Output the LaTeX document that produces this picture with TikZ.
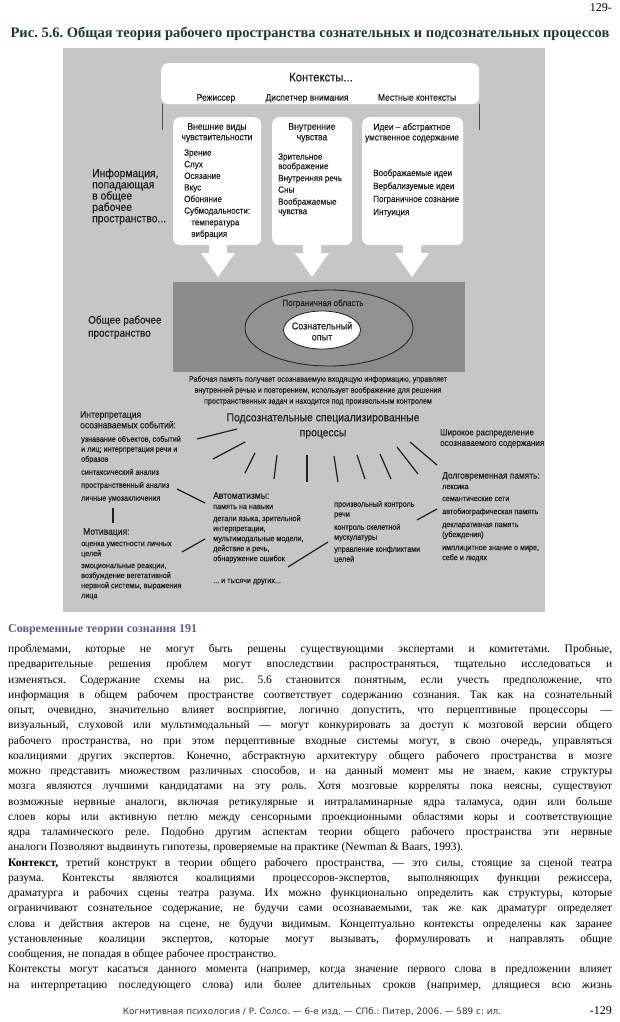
\documentclass[tikz,border=0pt]{standalone}
\usepackage{fontspec}
\setmainfont{Liberation Serif}
\newfontfamily\figf[FakeStretch=0.9,FakeBold=0.3]{Liberation Sans}
\newfontfamily\footf{DejaVu Sans}
\usetikzlibrary{shapes.geometric}
\frenchspacing
\definecolor{figbg}{HTML}{C6C6C6}
\definecolor{bandc}{HTML}{8C8C8C}
\definecolor{ellc}{HTML}{929292}
\definecolor{ftxt}{HTML}{1E1E1E}
\definecolor{ttl}{HTML}{1E3A2A}
\definecolor{sect}{HTML}{5C5C8E}
\newcommand\fsz[2]{\fontsize{#1}{#2}\selectfont\lineskiplimit=-20pt\relax}
\newcommand\bline[3]{\node[bodyl] (l#1) at (8,#2) {\makebox[604pt][s]{#3}};}
\tikzset{
  ft/.style={font=\figf, text=ftxt, inner sep=0pt},
  tl/.style={ft, anchor=north west, align=left},
  tc/.style={ft, anchor=north, align=center},
  wbox/.style={fill=white, rounded corners=7pt, inner sep=0pt, anchor=north west},
  ray/.style={draw=ftxt, line width=1.2pt},
  framel/.style={draw=black!70, line width=0.7pt},
  bodyl/.style={anchor=base west, inner sep=0pt, font=\fsz{11.5}{14}},
}
\begin{document}
\begin{tikzpicture}[x=1pt,y=-1pt]
\useasboundingbox (0,0) rectangle (620,1022);
\fill[white] (0,0) rectangle (620,1022);
\node[anchor=base east, inner sep=0pt, font=\fsz{12}{14}] (pg) at (612,12) {129-};
\node[anchor=base, inner sep=0pt, font=\bfseries\fsz{14.5}{16}, text=ttl] (title) at (310,38) {Рис. 5.6. Общая теория рабочего пространства сознательных и подсознательных процессов};
% figure background
\node[fill=figbg, minimum width=482, minimum height=564, inner sep=0pt, anchor=north west] (fig) at (63,48) {};
% contexts
\node[wbox, minimum width=318, minimum height=41] (ctx) at (161,63) {};
\draw[framel] (ctx.south west) ++(1,0) -- ++(0,26);
\draw[framel] (ctx.south east) ++(0,0) -- ++(0,26);
\node[tc, font=\figf\fsz{12.5}{14}] (ctxt) at (321,72.6) {Контексты...};
\node[tc, font=\figf\fsz{9.5}{11}] (c1) at (216,94) {Режиссер};
\node[tc, font=\figf\fsz{9.5}{11}] (c2) at (307,94) {Диспетчер внимания};
\node[tc, font=\figf\fsz{9.5}{11}] (c3) at (417,94) {Местные контексты};
% three boxes
\node[wbox, minimum width=88, minimum height=128] (b1) at (173,117) {};
\node[wbox, minimum width=80, minimum height=128] (b2) at (272,117) {};
\node[wbox, minimum width=101, minimum height=128] (b3) at (362,117) {};
\node[tc, font=\figf\fsz{9.5}{10.5}] (h1) at (217,123) {Внешние виды\\чувствительности};
\node[tc, font=\figf\fsz{9.5}{10.5}] (h2) at (312,123) {Внутренние\\чувства};
\node[tc, font=\figf\fsz{9.2}{10.5}] (h3) at (412,123) {Идеи – абстрактное\\умственное содержание};
\node[tl, font=\figf\fsz{9}{11.6}] (i1) at (184,149.2) {Зрение\\Слух\\Осязание\\Вкус\\Обоняние\\Субмодальности:\\\hspace*{7pt}температура\\\hspace*{7pt}вибрация};
\node[tl, font=\figf\fsz{9}{9.5}] (i2) at (278,153.2) {Зрительное\\воображение\\[2.5pt]Внутренняя речь\\[2pt]Сны\\[2.5pt]Воображаемые\\чувства};
\node[tl, font=\figf\fsz{9}{13}] (i3) at (373,169.2) {Воображаемые идеи\\Вербализуемые идеи\\Пограничное сознание\\Интуиция};
% left label
\node[tl, font=\figf\fsz{11.5}{11.3}] (info) at (92,168.5) {Информация,\\попадающая\\в общее\\рабочее\\пространство...};
% arrows
\foreach \cx in {218,312,412}{
  \fill[white] (\cx-9,245) -- (\cx+9,245) -- (\cx+9,253) -- (\cx+17,253) -- (\cx,277) -- (\cx-17,253) -- (\cx-9,253) -- cycle;
}
% workspace band
\node[fill=bandc, minimum width=292, minimum height=90, inner sep=0pt, anchor=north west] (band) at (173,282) {};
\node[ellipse, draw=ftxt, line width=0.8pt, fill=ellc, minimum width=168, minimum height=76, inner sep=0pt] (outer) at (329,328) {};
\node[ellipse, draw=ftxt, line width=0.8pt, fill=white, minimum width=77, minimum height=38, inner sep=0pt] (inner) at (322,330) {};
\node[tc, font=\figf\fsz{9}{10}] (border) at (323,299.2) {Пограничная область};
\node[tc, font=\figf\fsz{10}{11}] (consc) at (322,321.8) {Сознательный\\опыт};
\node[tl, font=\figf\fsz{11}{13}] (gws) at (88,315.4) {Общее рабочее\\пространство};
\node[tc, font=\figf\fsz{8}{11}] (cap) at (318,375.6) {Рабочая память получает осознаваемую входящую информацию, управляет\\внутренней речью и повторением, использует воображение для решения\\пространственных задач и находится под произвольным контролем};
% subconscious
\node[tc, font=\figf\fsz{11.5}{15}] (sub) at (323,413.2) {Подсознательные специализированные\\процессы};
\node[tl, font=\figf\fsz{9.5}{10.5}] (interh) at (80,411) {Интерпретация\\осознаваемых событий:};
\node[tl, font=\figf\fsz{8}{10}] (interl) at (81,435.6) {узнавание объектов, событий\\и лиц; интерпретация речи и\\образов\\[3pt]синтаксический анализ\\[3pt]пространственный анализ\\[3pt]личные умозаключения};
\node[tl, font=\figf\fsz{9.5}{10.5}] (motih) at (83,528) {Мотивация:};
\node[tl, font=\figf\fsz{8}{10}] (motil) at (81,541.6) {оценка уместности личных\\целей\\[2pt]эмоциональные реакции,\\возбуждение вегетативной\\нервной системы, выражения\\лица};
\node[tl, font=\figf\fsz{9.5}{10.5}] (autoh) at (213,492) {Автоматизмы:};
\node[tl, font=\figf\fsz{8}{10}] (autol) at (213,504.6) {память на навыки\\[2pt]детали языка, зрительной\\интерпретации,\\мультимодальные модели,\\действие и речь,\\обнаружение ошибок\\[12pt]... и тысячи других...};
\node[tl, font=\figf\fsz{8}{10}] (ctrl) at (334,500.6) {произвольный контроль\\речи\\[3pt]контроль скелетной\\мускулатуры\\[2pt]управление конфликтами\\целей};
\node[tl, font=\figf\fsz{9}{10.5}] (broad) at (440,429) {Широкое распределение\\осознаваемого содержания};
\node[tl, font=\figf\fsz{9.3}{10.5}] (ltmh) at (442,472) {Долговременная память:};
\node[tl, font=\figf\fsz{8}{10}] (ltml) at (442,484.6) {лексика\\[2pt]семантические сети\\[3pt]автобиографическая память\\[3pt]декларативная память\\(убеждения)\\[3pt]имплицитное знание о мире,\\себе и людях};
% rays
\foreach \ax/\ay/\bx/\by in {197/439/237/429, 213/459/245/442, 245/473/255/453, 274/479/277/455, 307/482/307/455, 338/482/334/456, 365/479/357/455, 391/479/380/454, 418/474/397/447, 437/465/410/442}{
  \draw[ray] (\ax,\ay) -- (\bx,\by);
}
% connectors between blocks
\draw[ray] (177,489) -- (205,503);
\draw[ray] (182,552) -- (205,539);
\draw[ray] (288,567) -- (328,542);
\draw[ray] (417,520) -- (437,509);
\draw[ray] (113,508) -- (113,523);
% text below
\node[anchor=base west, inner sep=0pt, font=\bfseries\fsz{12}{14}, text=sect] (sec) at (8,632.5) {Современные теории сознания 191};
\bline{1}{652.5}{проблемами, которые не могут быть решены существующими экспертами и комитетами. Пробные,}
\bline{2}{667.75}{предварительные решения проблем могут впоследствии распространяться, тщательно исследоваться и}
\bline{3}{683}{изменяться. Содержание схемы на рис. 5.6 становится понятным, если учесть предположение, что}
\bline{4}{698.25}{информация в общем рабочем пространстве соответствует содержанию сознания. Так как на сознательный}
\bline{5}{713.5}{опыт, очевидно, значительно влияет восприятие, логично допустить, что перцептивные процессоры —}
\bline{6}{728.75}{визуальный, слуховой или мультимодальный — могут конкурировать за доступ к мозговой версии общего}
\bline{7}{744}{рабочего пространства, но при этом перцептивные входные системы могут, в свою очередь, управляться}
\bline{8}{759.25}{коалициями других экспертов. Конечно, абстрактную архитектуру общего рабочего пространства в мозге}
\bline{9}{774.5}{можно представить множеством различных способов, и на данный момент мы не знаем, какие структуры}
\bline{10}{789.75}{мозга являются лучшими кандидатами на эту роль. Хотя мозговые корреляты пока неясны, существуют}
\bline{11}{805}{возможные нервные аналоги, включая ретикулярные и интраламинарные ядра таламуса, один или больше}
\bline{12}{820.25}{слоев коры или активную петлю между сенсорными проекционными областями коры и соответствующие}
\bline{13}{835.5}{ядра таламического реле. Подобно другим аспектам теории общего рабочего пространства эти нервные}
\node[bodyl] (l14) at (8,850.75) {аналоги Позволяют выдвинуть гипотезы, проверяемые на практике (Newman \& Baars, 1993).};
\bline{15}{866}{\textbf{Контекст,} третий конструкт в теории общего рабочего пространства, — это силы, стоящие за сценой театра}
\bline{16}{881.25}{разума. Контексты являются коалициями процессоров-экспертов, выполняющих функции режиссера,}
\bline{17}{896.5}{драматурга и рабочих сцены театра разума. Их можно функционально определить как структуры, которые}
\bline{18}{911.75}{ограничивают сознательное содержание, не будучи сами осознаваемыми, так же как драматург определяет}
\bline{19}{927}{слова и действия актеров на сцене, не будучи видимым. Концептуально контексты определены как заранее}
\bline{20}{942.25}{установленные коалиции экспертов, которые могут вызывать, формулировать и направлять общие}
\node[bodyl] (l21) at (8,957.5) {сообщения, не попадая в общее рабочее пространство.};
\bline{22}{972.75}{Контексты могут касаться данного момента (например, когда значение первого слова в предложении влияет}
\bline{23}{988}{на интерпретацию последующего слова) или более длительных сроков (например, длящиеся всю жизнь}
% footer
\node[anchor=base, inner sep=0pt, font=\footf\fsz{8.85}{10}, text=black!80] (foot) at (312,1014) {Когнитивная психология / Р. Солсо. — 6-е изд. — СПб.: Питер, 2006. — 589 с: ил.};
\node[anchor=base east, inner sep=0pt, font=\fsz{12}{14}] (pgb) at (612,1014) {-129};
\end{tikzpicture}
\end{document}
